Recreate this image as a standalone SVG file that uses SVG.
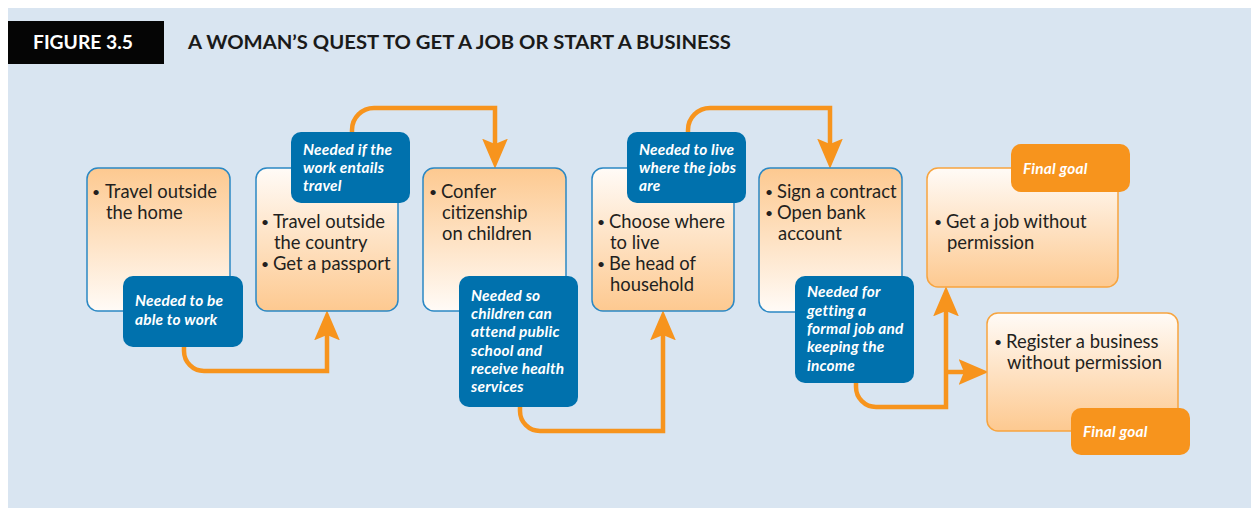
<svg xmlns="http://www.w3.org/2000/svg" width="1251" height="508" viewBox="0 0 1251 508">
<style>
.bg{fill:#d9e5f1}
.box{stroke:#2b88c4;stroke-width:1.5}
.goal{stroke:#f7a43f;stroke-width:1.5}
.lbl{fill:#0071ad}
.fg{fill:#f7941d}
.t{font-family:Lato,"Liberation Sans",sans-serif;font-size:18.4px;fill:#231f20}
.b{font-size:14px}
.l{font-family:Lato,"Liberation Sans",sans-serif;font-size:15.4px;letter-spacing:0.2px;font-weight:bold;font-style:italic;fill:#ffffff}
.con{fill:none;stroke:#f7941d;stroke-width:4.5}
.ttl{font-family:Lato,"Liberation Sans",sans-serif;font-size:18.5px;font-weight:bold;fill:#1a1a1a}
</style>
<defs>
<linearGradient id="ow" x1="0" y1="0" x2="0" y2="1"><stop offset="0" stop-color="#fdc990"/><stop offset="1" stop-color="#fffbf7"/></linearGradient>
<linearGradient id="wo" x1="0" y1="0" x2="0" y2="1"><stop offset="0" stop-color="#fffbf7"/><stop offset="1" stop-color="#fdc990"/></linearGradient>
<marker id="ah" markerUnits="userSpaceOnUse" markerWidth="30" markerHeight="26" viewBox="0 0 28 24" refX="5" refY="12" orient="auto"><path d="M0,0 L28,12 L0,24 L5,12 Z" fill="#f7941d"/></marker>
</defs>
<rect class="bg" x="8" y="8" width="1243" height="500"/>
<g id="header">
<rect x="8" y="21" width="156" height="43" fill="#050505"/>
<text x="33" y="49" textLength="100" lengthAdjust="spacingAndGlyphs" font-family="Lato,'Liberation Sans',sans-serif" font-size="18.5" font-weight="bold" fill="#ffffff">FIGURE 3.5</text>
<text class="ttl" x="188" y="49" textLength="543" lengthAdjust="spacingAndGlyphs">A WOMAN’S QUEST TO GET A JOB OR START A BUSINESS</text>
</g>
<g id="connectors">
<path class="con" d="M184 347 V351 A20 20 0 0 0 204 371 H327 V335" marker-end="url(#ah)"/>
<path class="con" d="M352 133 V130 A22 22 0 0 1 374 108 H495 V144" marker-end="url(#ah)"/>
<path class="con" d="M520 407 V411 A20 20 0 0 0 540 431 H663 V335" marker-end="url(#ah)"/>
<path class="con" d="M688 133 V130 A22 22 0 0 1 710 108 H830 V144" marker-end="url(#ah)"/>
<path class="con" d="M856 383 V387 A20 20 0 0 0 876 407 H946 V311" marker-end="url(#ah)"/>
<path class="con" d="M946 372 H964" marker-end="url(#ah)"/>
</g>
<g id="box1">
<rect class="box" x="87" y="168" width="143" height="143" rx="11" fill="url(#ow)"/>
<text class="t"><tspan class="b" x="92" y="196.5">•</tspan><tspan x="105" y="197.5">Travel outside</tspan><tspan x="106" y="218.5">the home</tspan></text>
</g>
<g id="label1">
<rect class="lbl" x="123" y="276" width="120" height="71" rx="10"/>
<text class="l"><tspan x="135" y="306">Needed to be</tspan><tspan x="135" y="325">able to work</tspan></text>
</g>
<g id="box2">
<rect class="box" x="256" y="168" width="142" height="143" rx="11" fill="url(#wo)"/>
<text class="t"><tspan class="b" x="261" y="227">•</tspan><tspan x="273" y="228">Travel outside</tspan><tspan x="274" y="249">the country</tspan><tspan class="b" x="261" y="269">•</tspan><tspan x="273" y="270">Get a passport</tspan></text>
</g>
<g id="label2">
<rect class="lbl" x="291" y="132" width="119" height="71" rx="10"/>
<text class="l"><tspan x="303" y="155">Needed if the</tspan><tspan x="303" y="173">work entails</tspan><tspan x="303" y="191">travel</tspan></text>
</g>
<g id="box3">
<rect class="box" x="423" y="168" width="143" height="143" rx="11" fill="url(#ow)"/>
<text class="t"><tspan class="b" x="429" y="196.5">•</tspan><tspan x="441" y="197.5">Confer</tspan><tspan x="442" y="218.5">citizenship</tspan><tspan x="442" y="239.5">on children</tspan></text>
</g>
<g id="label3">
<rect class="lbl" x="459" y="276" width="119" height="131" rx="10"/>
<text class="l"><tspan x="471" y="300.5">Needed so</tspan><tspan x="471" y="318.5">children can</tspan><tspan x="471" y="337">attend public</tspan><tspan x="471" y="355.5">school and</tspan><tspan x="471" y="373.5">receive health</tspan><tspan x="471" y="392">services</tspan></text>
</g>
<g id="box4">
<rect class="box" x="592" y="168" width="142" height="143" rx="11" fill="url(#wo)"/>
<text class="t"><tspan class="b" x="597" y="227">•</tspan><tspan x="609" y="228">Choose where</tspan><tspan x="610" y="249">to live</tspan><tspan class="b" x="597" y="269">•</tspan><tspan x="609" y="270">Be head of</tspan><tspan x="610" y="291">household</tspan></text>
</g>
<g id="label4">
<rect class="lbl" x="627" y="132" width="119" height="71" rx="10"/>
<text class="l"><tspan x="639" y="155">Needed to live</tspan><tspan x="639" y="173">where the jobs</tspan><tspan x="639" y="191">are</tspan></text>
</g>
<g id="box5">
<rect class="box" x="759" y="168" width="143" height="144" rx="11" fill="url(#ow)"/>
<text class="t"><tspan class="b" x="765" y="197">•</tspan><tspan x="777" y="198">Sign a contract</tspan><tspan class="b" x="765" y="218">•</tspan><tspan x="777" y="219">Open bank</tspan><tspan x="778" y="240">account</tspan></text>
</g>
<g id="label5">
<rect class="lbl" x="795" y="276" width="119" height="107" rx="10"/>
<text class="l"><tspan x="807" y="297">Needed for</tspan><tspan x="807" y="315.5">getting a</tspan><tspan x="807" y="334">formal job and</tspan><tspan x="807" y="352">keeping the</tspan><tspan x="807" y="370.5">income</tspan></text>
</g>
<g id="box6">
<rect class="goal" x="927" y="168" width="191" height="119" rx="11" fill="url(#wo)"/>
<text class="t"><tspan class="b" x="934" y="227">•</tspan><tspan x="946" y="228">Get a job without</tspan><tspan x="947" y="249">permission</tspan></text>
</g>
<g id="goal1">
<rect class="fg" x="1011" y="144" width="119" height="48" rx="10"/>
<text class="l" x="1023" y="173.5">Final goal</text>
</g>
<g id="box7">
<rect class="goal" x="987" y="313" width="191" height="118" rx="11" fill="url(#wo)"/>
<text class="t"><tspan class="b" x="994" y="347">•</tspan><tspan x="1006" y="348">Register a business</tspan><tspan x="1007" y="369">without permission</tspan></text>
</g>
<g id="goal2">
<rect class="fg" x="1071" y="408" width="119" height="47" rx="10"/>
<text class="l" x="1083" y="437">Final goal</text>
</g>
</svg>
